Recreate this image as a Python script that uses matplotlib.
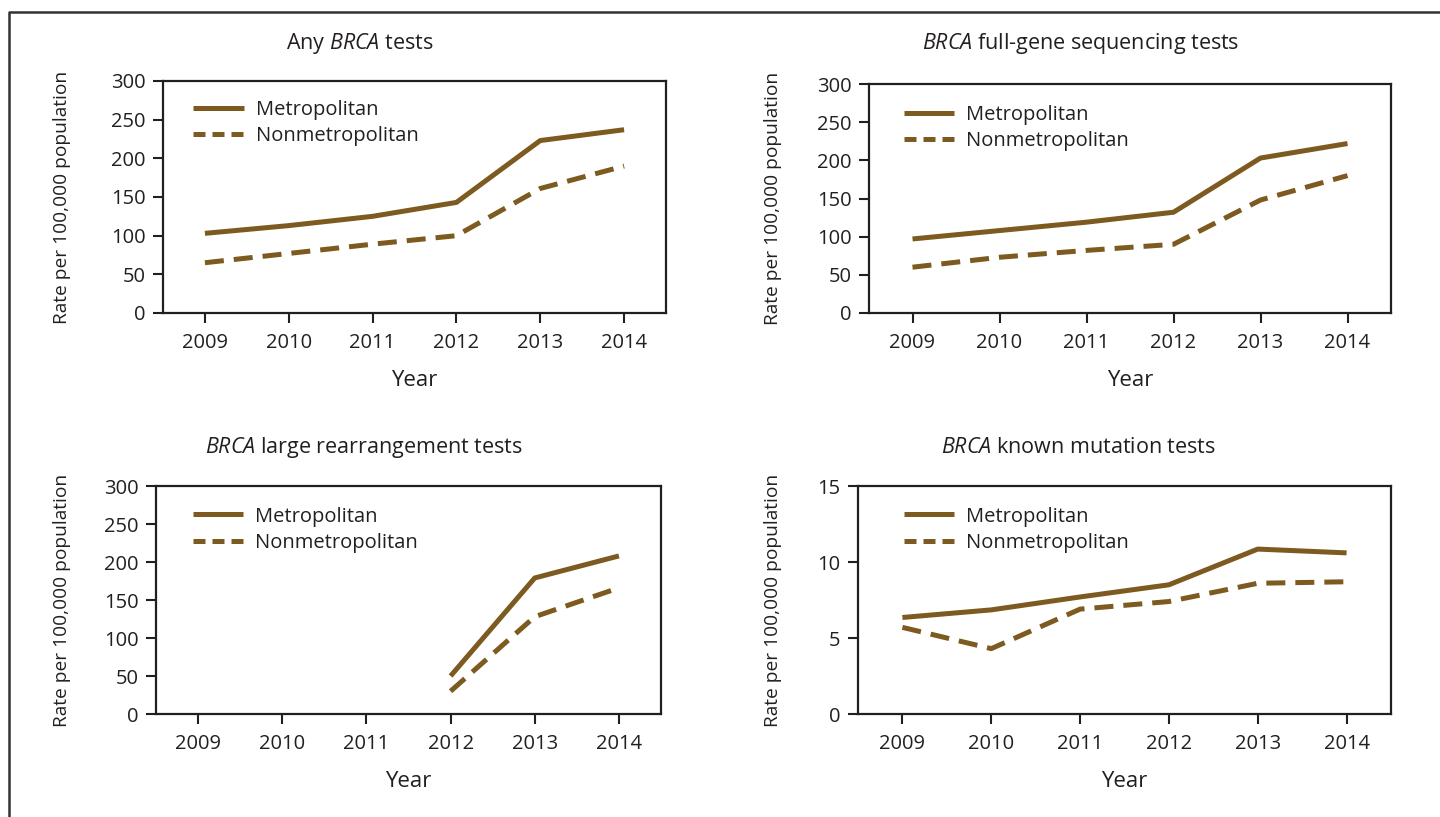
import matplotlib
matplotlib.use("Agg")
import matplotlib.pyplot as plt
from matplotlib.lines import Line2D

plt.rcParams['font.family'] = ['Open Sans', 'DejaVu Sans']
plt.rcParams['mathtext.fontset'] = 'custom'
plt.rcParams['mathtext.rm'] = 'Open Sans'
plt.rcParams['mathtext.it'] = 'Open Sans:italic'

# data
years = [2009, 2010, 2011, 2012, 2013, 2014]

any_metro = [103, 113, 125, 143, 223, 237]
any_nonmetro = [65, 77, 89, 100, 161, 190]

full_metro = [97, 108, 119, 132, 203, 222]
full_nonmetro = [60, 73, 82, 90, 148, 180]

large_years = [2012, 2013, 2014]
large_metro = [50, 179, 208]
large_nonmetro = [30, 128, 166]

known_metro = [6.35, 6.85, 7.7, 8.5, 10.85, 10.6]
known_nonmetro = [5.7, 4.3, 6.9, 7.4, 8.6, 8.7]

titles = ['Any $\\mathit{BRCA}$ tests',
          '$\\mathit{BRCA}$ full-gene sequencing tests',
          '$\\mathit{BRCA}$ large rearrangement tests',
          '$\\mathit{BRCA}$ known mutation tests']

BROWN = '#7d5a1f'
INK = '#231f20'
W, H = 1440, 817


def box(l, r, t, b):
    return [l / W, 1 - b / H, (r - l) / W, (b - t) / H]


fig = plt.figure(figsize=(W / 100, H / 100), dpi=100)

# (axes box in px, title centre px, ylabel x px, legend anchor)
layout = [
    ((163, 666, 81, 313), (360, 44), 71, (0.06, 0.92)),
    ((869, 1391, 84, 313), (1081, 44), 782, (0.067, 0.91)),
    ((156, 661, 486, 714), (364, 448), 71, (0.073, 0.91)),
    ((858, 1391, 486, 714), (1078, 448), 782, (0.086, 0.91)),
]
series = [
    (years, any_metro, any_nonmetro, 300, 50),
    (years, full_metro, full_nonmetro, 300, 50),
    (large_years, large_metro, large_nonmetro, 300, 50),
    (years, known_metro, known_nonmetro, 15, 5),
]

for i in range(4):
    (l, r, t, b), (tx, ty), ylx, leg_xy = layout[i]
    xs, metro, nonmetro, ymax, ystep = series[i]
    ax = fig.add_axes(box(l, r, t, b))

    ax.plot(xs, metro, color=BROWN, lw=3.6, solid_capstyle='butt')
    ax.plot(xs, nonmetro, color=BROWN, lw=3.6, dashes=(3.8, 2.0),
            dash_capstyle='butt')

    ax.set_xlim(2008.5, 2014.5)
    ax.set_ylim(0, ymax)
    ax.set_xticks(years)
    ax.set_yticks(range(0, ymax + 1, ystep))
    ax.tick_params(axis='both', direction='out', length=7.5, width=1.5,
                   labelsize=14.5, color=INK, labelcolor=INK)
    ax.tick_params(axis='x', pad=7)
    ax.tick_params(axis='y', pad=5)
    for s in ax.spines.values():
        s.set_linewidth(1.6)
        s.set_color(INK)

    ax.set_xlabel('Year', fontsize=16, color=INK, labelpad=12)
    ax.set_ylabel('Rate per 100,000 population', fontsize=13.8, color=INK)
    ax.yaxis.set_label_coords((ylx - l) / (r - l), 0.5)

    handles = [Line2D([], [], color=BROWN, lw=3.6, solid_capstyle='butt'),
               Line2D([], [], color=BROWN, lw=3.6, dashes=(2.4, 1.4),
                      dash_capstyle='butt')]
    ax.legend(handles, ['Metropolitan', 'Nonmetropolitan'],
              loc='upper left', bbox_to_anchor=leg_xy, frameon=False,
              fontsize=14.5, handlelength=2.5, handletextpad=0.6,
              labelspacing=0.3, borderpad=0, borderaxespad=0,
              labelcolor=INK)

    fig.text(tx / W, 1 - ty / H, titles[i], ha='center', va='center',
             fontsize=15.5, color=INK)

# outer frame (top and left edges only, as in the source)
fig.add_artist(Line2D([9 / W, 9 / W, 1], [0, 1 - 12 / H, 1 - 12 / H],
                      color='#333333', lw=1.8))

fig.savefig('out.png', dpi=100)
